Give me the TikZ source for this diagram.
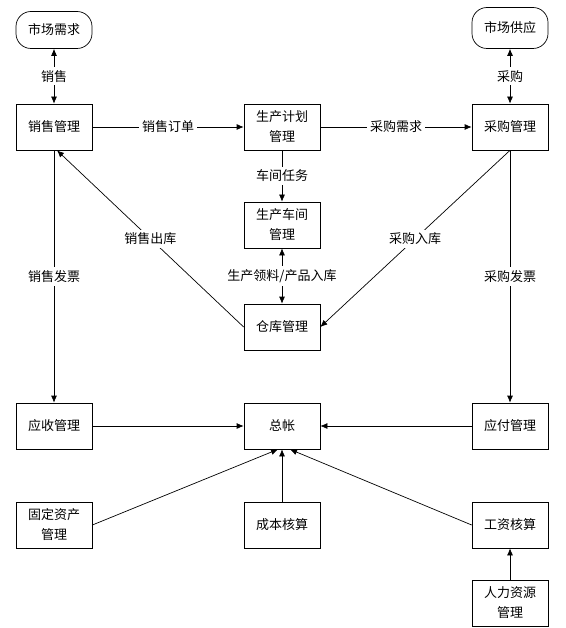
\documentclass[tikz,border=0pt]{standalone}
\usepackage{fontspec}
\newfontfamily\cjk{Noto Sans CJK SC}
\usetikzlibrary{arrows.meta}

\begin{document}
\begin{tikzpicture}[x=1pt,y=1pt,->,>={Latex[length=7pt,width=6pt]},line width=0.7pt,node distance=228pt,font=\cjk\fontsize{13}{20}\selectfont]
\tikzstyle{box}=[draw=black,fill=white,align=center,minimum width=76pt,minimum height=46pt,inner sep=0pt]
\tikzstyle{market}=[box,rounded corners=15pt,minimum height=37pt]
\tikzstyle{lbl}=[fill=white,inner sep=3pt,midway]
\useasboundingbox (0,0) rectangle (565,-628);

\node[box] (xsgl) at (54,-127) {销售管理};
\node[box] (jhgl) [right of=xsgl] {生产计划\\管理};
\node[box] (cggl) [right of=jhgl] {采购管理};
\node[market] (xq) [above of=xsgl,node distance=97pt] {市场需求};
\node[market,minimum height=41pt] (gy) [above of=cggl,node distance=99pt] {市场供应};
\node[box] (cj) [below of=jhgl,node distance=98pt] {生产车间\\管理};
\node[box] (ck) [below of=cj,node distance=102pt] {仓库管理};
\node[box] (ys) [below of=xsgl,node distance=299pt] {应收管理};
\node[box] (zz) [right of=ys] {总帐};
\node[box] (yf) [right of=zz] {应付管理};
\node[box] (gd) [below of=ys,node distance=99pt] {固定资产\\管理};
\node[box] (cb) [right of=gd] {成本核算};
\node[box] (gz) [right of=cb] {工资核算};
\node[box] (rl) [below of=gz,node distance=78pt] {人力资源\\管理};

\path
(xq) edge[<->] node[lbl]{销售} (xsgl)
(gy) edge[<->] node[lbl]{采购} (cggl)
(xsgl) edge node[lbl]{销售订单} (jhgl)
(jhgl) edge node[lbl]{采购需求} (cggl)
(jhgl) edge node[lbl]{车间任务} (cj)
(cj) edge[<->] node[lbl]{生产领料/产品入库} (ck)
(ck.west) edge node[lbl]{销售出库} ([xshift=3pt]xsgl.south)
(cggl.south) edge node[lbl]{采购入库} (ck.east)
(xsgl) edge node[lbl]{销售发票} (ys)
(cggl) edge node[lbl]{采购发票} (yf)
(ys) edge (zz)
(yf) edge (zz)
(gd.east) edge ([xshift=-4pt]zz.south)
(cb) edge (zz)
(gz.west) edge ([xshift=8pt]zz.south)
(rl) edge (gz);
\end{tikzpicture}
\end{document}
